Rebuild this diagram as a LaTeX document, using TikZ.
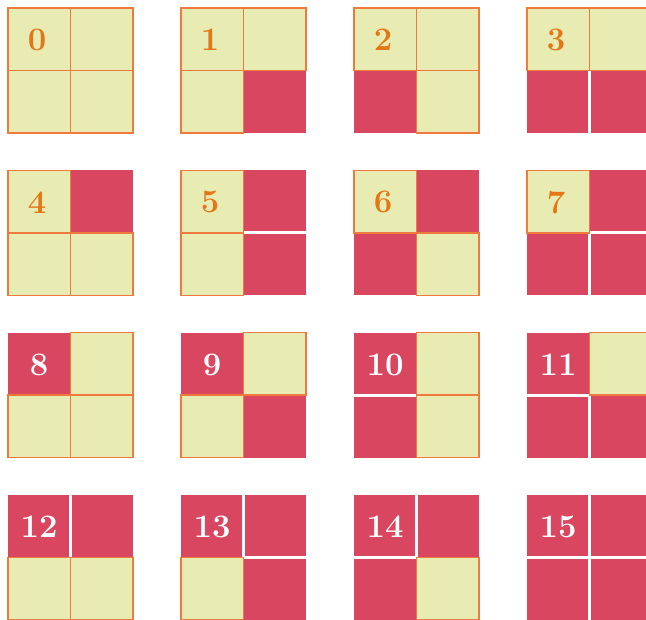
\documentclass[tikz,border=0pt]{standalone}
\usepackage{tikz}
\usetikzlibrary{positioning}
\definecolor{tilered}{RGB}{217,70,96}
\definecolor{tileyel}{RGB}{232,236,178}
\definecolor{lineor}{RGB}{238,122,62}
\definecolor{numor}{RGB}{228,118,22}

\begin{document}
\begin{tikzpicture}[x=0.03cm,y=-0.03cm,
  cellon/.style={fill=tilered},
  celloff/.style={fill=tileyel, draw=lineor, line width=1.3pt},
  gapline/.style={draw=white, line width=2.4pt},
  numoff/.style={text=numor, font=\fontsize{28}{28}\selectfont\bfseries},
  numon/.style={text=white, font=\fontsize{28}{28}\selectfont\bfseries}]
\useasboundingbox (0,0) rectangle (646,620);
\clip (0,0) rectangle (646,620);
\foreach \n in {0,...,15} {
  \pgfmathtruncatemacro{\col}{mod(\n,4)}
  \pgfmathtruncatemacro{\row}{floor(\n/4)}
  \pgfmathsetmacro{\tx}{8+173*\col}
  \pgfmathsetmacro{\ty}{8+162.3*\row}
  % red cells
  \foreach \b/\dx/\dy in {8/0/0,4/1/0,2/0/1,1/1/1} {
    \pgfmathtruncatemacro{\on}{mod(floor(\n/\b),2)}
    \ifnum\on=1
      \fill[cellon] (\tx+62.5*\dx,\ty+62.5*\dy) rectangle ++(62.5,62.5);
    \fi
  }
  % white gap between two red neighbours
  \foreach \ba/\bb/\xa/\ya/\xb/\yb in {8/4/62.5/0/62.5/62.5,2/1/62.5/62.5/62.5/125,
      8/2/0/62.5/62.5/62.5,4/1/62.5/62.5/125/62.5} {
    \pgfmathtruncatemacro{\both}{mod(floor(\n/\ba),2)*mod(floor(\n/\bb),2)}
    \ifnum\both=1
      \draw[gapline] (\tx+\xa,\ty+\ya) -- (\tx+\xb,\ty+\yb);
    \fi
  }
  % pale cells on top
  \foreach \b/\dx/\dy in {8/0/0,4/1/0,2/0/1,1/1/1} {
    \pgfmathtruncatemacro{\on}{mod(floor(\n/\b),2)}
    \ifnum\on=0
      \draw[celloff] (\tx+62.5*\dx,\ty+62.5*\dy) rectangle ++(62.5,62.5);
    \fi
  }
  \pgfmathtruncatemacro{\tl}{mod(floor(\n/8),2)}
  \ifnum\tl=1
    \node[numon] (lab\n) at (\tx+31,\ty+32) {\n};
  \else
    \node[numoff] (lab\n) at (\tx+29,\ty+32) {\n};
  \fi
}
\end{tikzpicture}
\end{document}
